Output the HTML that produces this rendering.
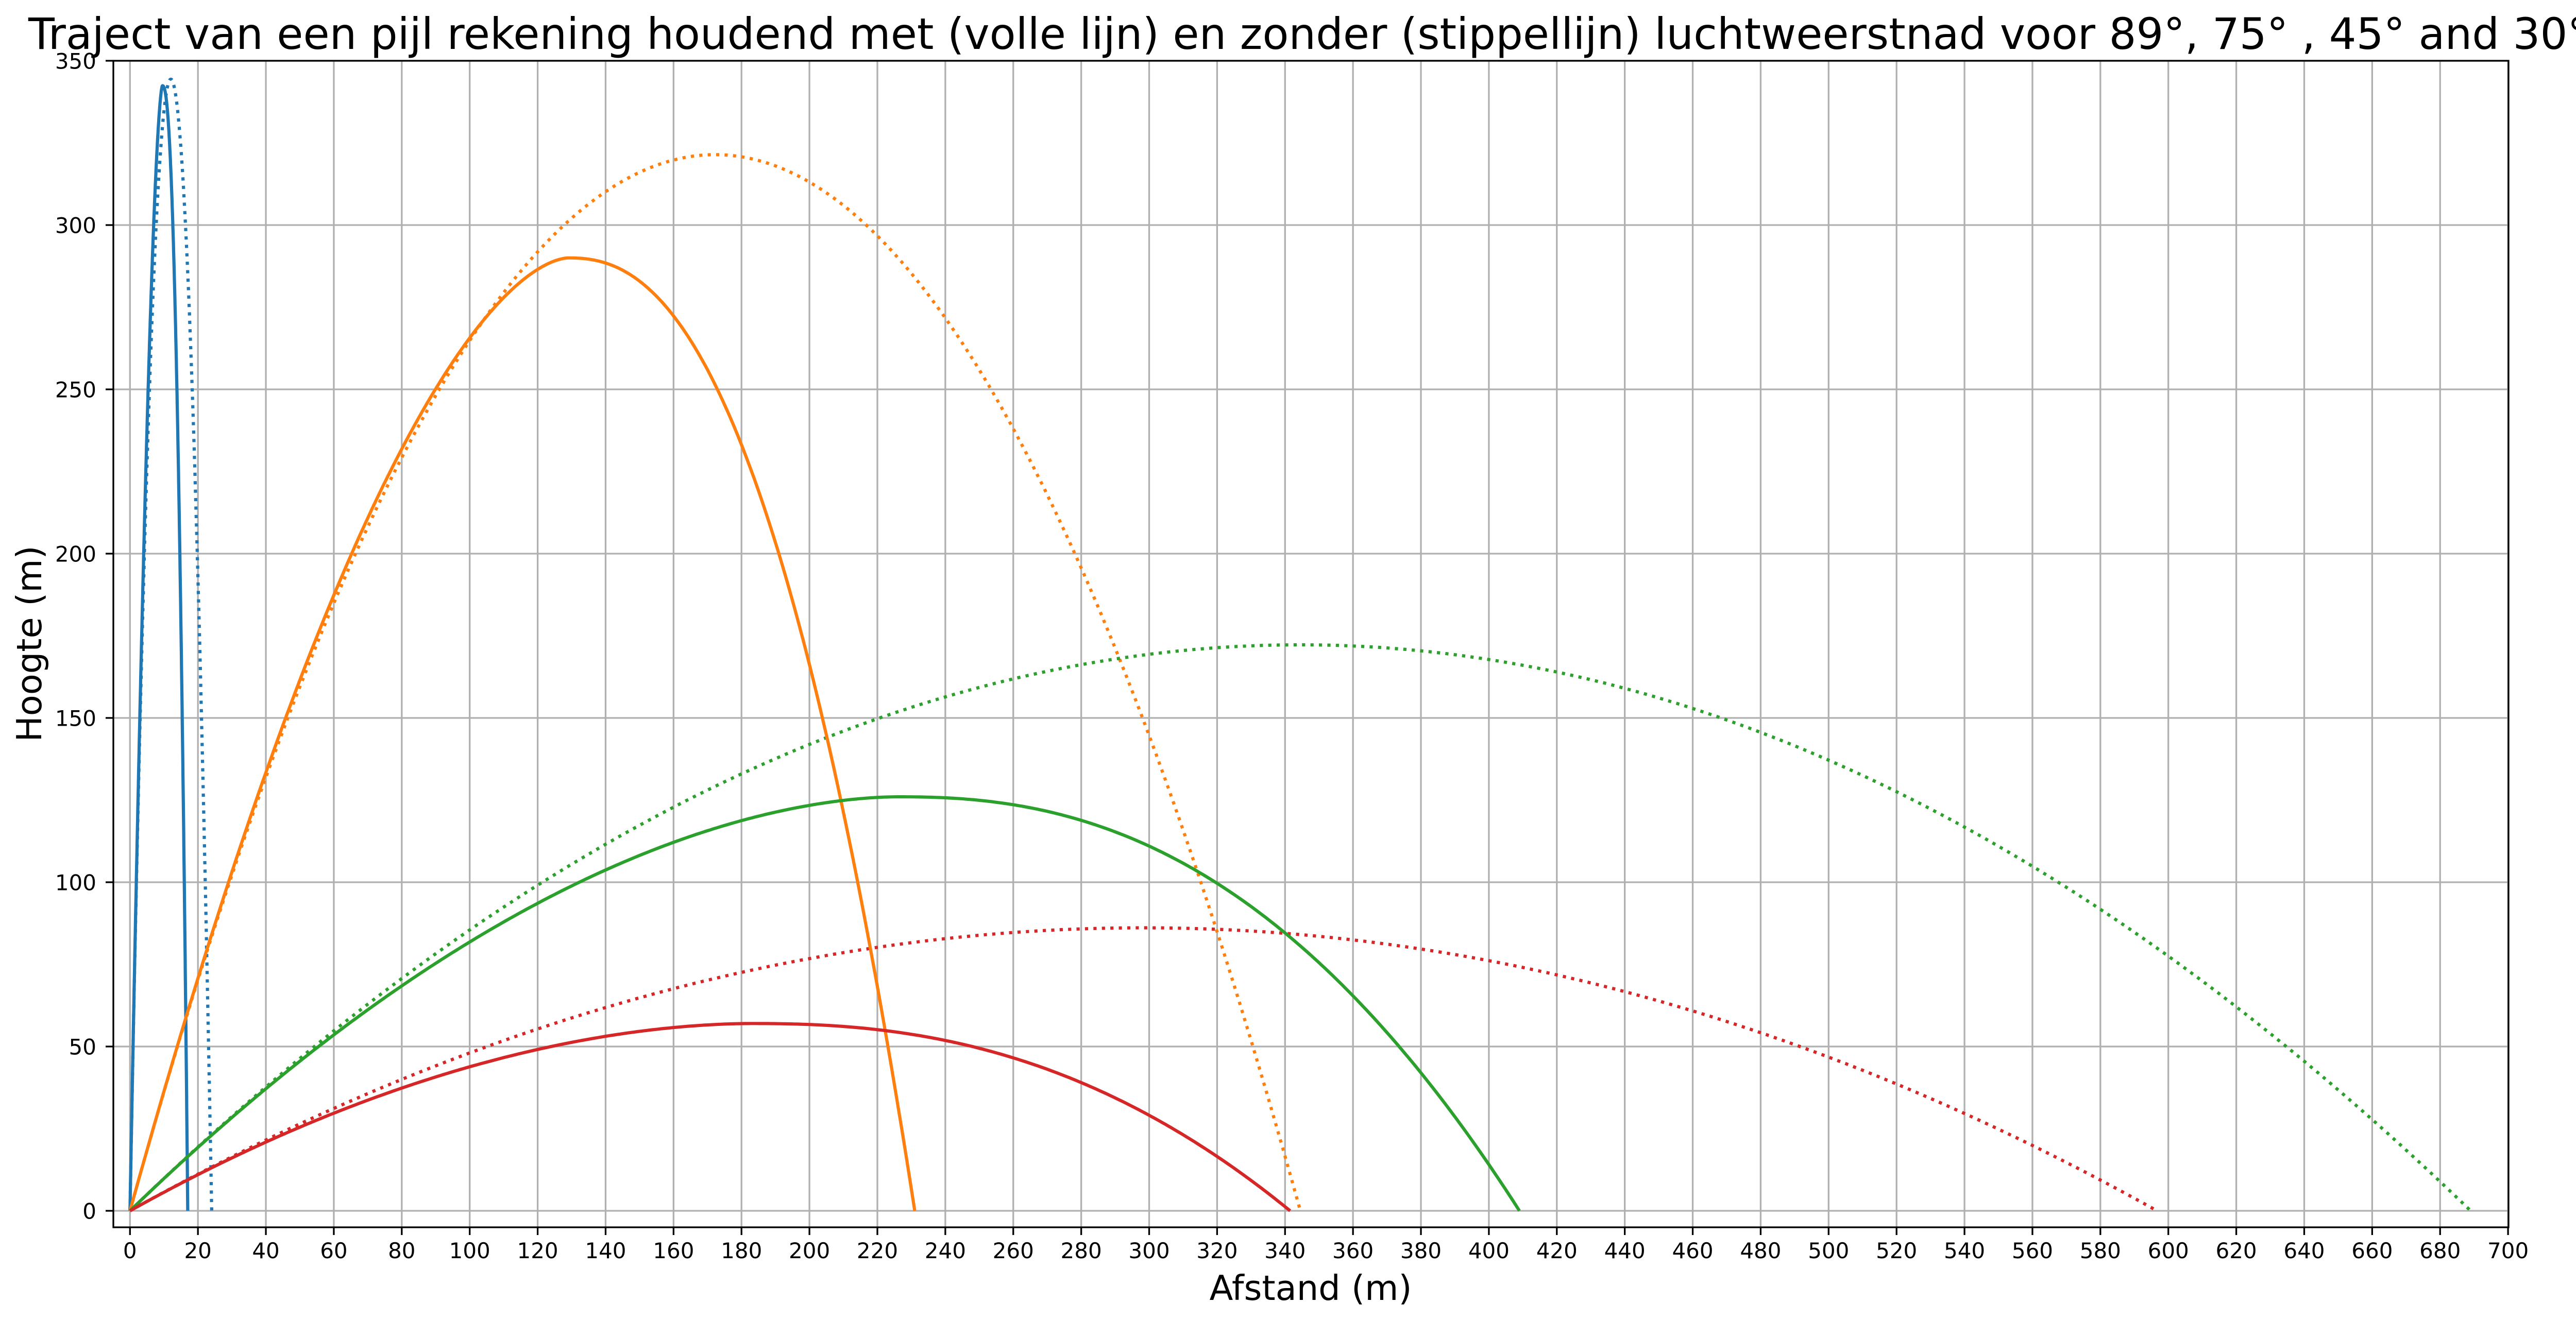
<!DOCTYPE html>
<html><head><meta charset="utf-8"><style>
html,body{margin:0;padding:0;background:#fff;overflow:hidden;}
svg{display:block;font-family:"DejaVu Sans","Liberation Sans",sans-serif;}
</style></head><body>
<svg id="s" width="5064" height="2563" viewBox="0 0 5064 2563" xmlns="http://www.w3.org/2000/svg">
<rect width="5064" height="2563" fill="#fff"/>
<g id="grid"></g>
<g id="curves" fill="none" stroke-width="6.2" stroke-linejoin="round"></g>
<rect x="220" y="118" width="4649" height="2265" fill="none" stroke="#000" stroke-width="3.3"/>
<g id="ticks"></g>
<text x="55" y="95" font-size="84" textLength="4970" lengthAdjust="spacingAndGlyphs">Traject van een pijl rekening houdend met (volle lijn) en zonder (stippellijn) luchtweerstnad voor 89°, 75° , 45° and 30°</text>
<text x="2544" y="2524" font-size="67" text-anchor="middle">Afstand (m)</text>
<text transform="translate(80,1250) rotate(-90)" font-size="67" text-anchor="middle">Hoogte (m)</text>
</svg>
<script>
var NS="http://www.w3.org/2000/svg";
function X(v){return 252.3+v*6.594;}
function Y(v){return 2351-v*6.38;}
function el(p,tag,a,txt){var e=document.createElementNS(NS,tag);for(var k in a)e.setAttribute(k,a[k]);if(txt!==undefined)e.textContent=txt;document.getElementById(p).appendChild(e);return e;}
for(var v=0;v<=700;v+=20){
 var x=X(v);
 el("grid","line",{x1:x,y1:118,x2:x,y2:2383,stroke:"#b0b0b0","stroke-width":3.3});
 el("ticks","line",{x1:x,y1:2383,x2:x,y2:2398,stroke:"#000","stroke-width":3.3});
 el("ticks","text",{x:x,y:2443,"font-size":42,"text-anchor":"middle"},String(v));
}
for(var v=0;v<=350;v+=50){
 var y=Y(v);
 el("grid","line",{x1:220,y1:y,x2:4869,y2:y,stroke:"#b0b0b0","stroke-width":3.3});
 el("ticks","line",{x1:205,y1:y,x2:220,y2:y,stroke:"#000","stroke-width":3.3});
 el("ticks","text",{x:187,y:y+15.5,"font-size":42,"text-anchor":"end"},String(v));
}
var cols={89:"#1f77b4",75:"#ff7f0e",45:"#2ca02c",30:"#d62728"};
var L=689;
[89,75,45,30].forEach(function(a){
 var t=a*Math.PI/180,R=L*Math.sin(2*t),d="";
 for(var i=0;i<=400;i++){var x=R*i/400;var y=x*Math.tan(t)-x*x/(2*L*Math.cos(t)*Math.cos(t));if(y<0)y=0;d+=(i?"L":"M")+X(x).toFixed(1)+" "+Y(y).toFixed(1);}
 el("curves","path",{d:d,stroke:cols[a],"stroke-dasharray":"6.2 10.2"});
});
var S={89:[9.55,342.4,17.0],75:[129,290,231],45:[226,126,409],30:[183,57,341.5]};
[89,75,45,30].forEach(function(a){
 var p=S[a],xp=p[0],H=p[1],R=p[2],t=a*Math.PI/180;
 var ea=Math.tan(t)*xp/H,eb=2.35,d="";
 for(var i=0;i<=400;i++){var x=R*i/400,y;
  if(x<=xp)y=H*(1-Math.pow(1-x/xp,ea));else y=H*(1-Math.pow((x-xp)/(R-xp),eb));
  d+=(i?"L":"M")+X(x).toFixed(1)+" "+Y(y).toFixed(1);}
 el("curves","path",{d:d,stroke:cols[a]});
});
</script>
</body></html>
